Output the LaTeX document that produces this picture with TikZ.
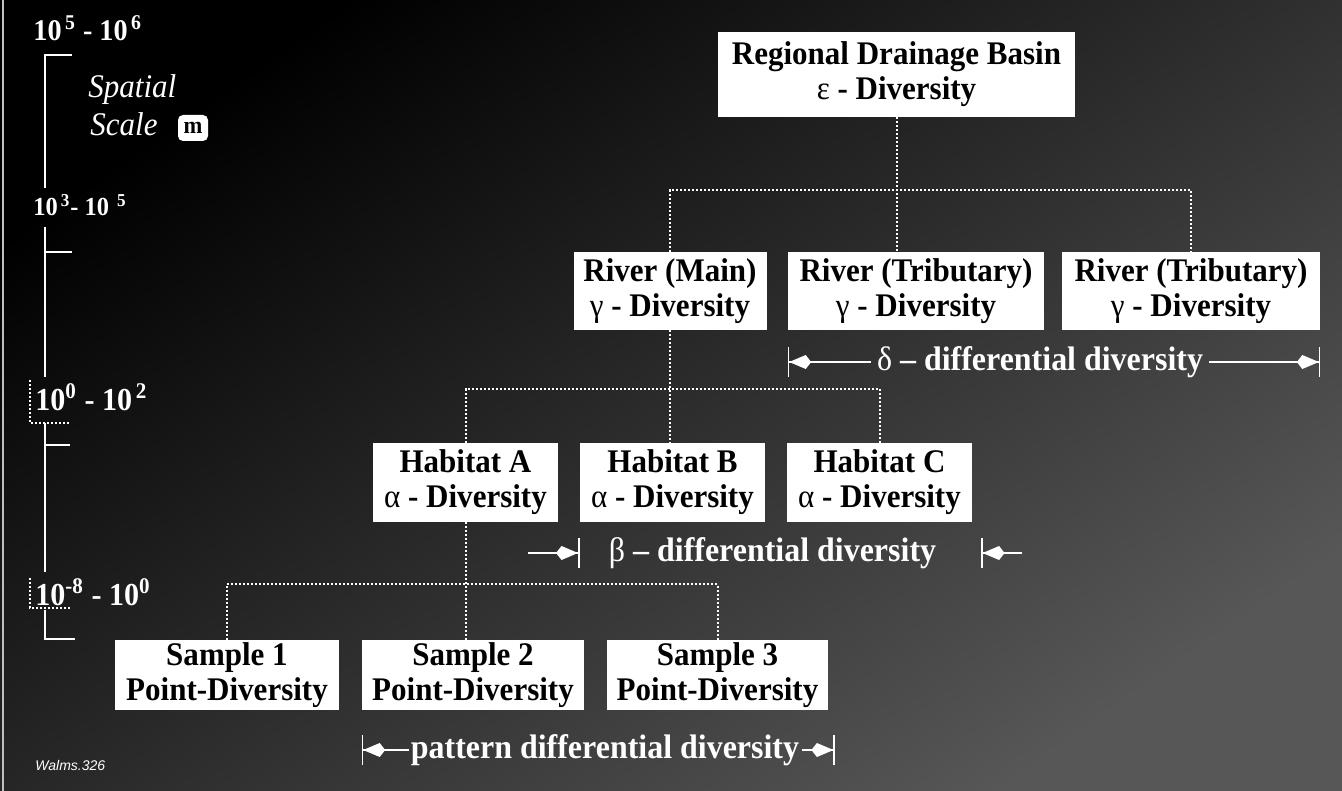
\documentclass[tikz,border=0pt]{standalone}
\usepackage{fontspec}
\setmainfont{Liberation Serif}[FakeStretch=0.94]
\newfontfamily\firma{Liberation Sans}
\usetikzlibrary{arrows.meta}

\begin{document}
\begin{tikzpicture}[
    x=0.5pt, y=-0.5pt,
    caja/.style={fill=white, text=black, align=center, inner sep=0pt,
                 font=\fontsize{16.5}{17.5}\selectfont\bfseries},
    enl/.style={draw=white, densely dotted, line width=1pt},
    eje/.style={draw=white, line width=1.2pt},
    cota/.style={draw=white, line width=0.8pt},
    cotaI/.style={cota, arrows={Bar[width=15pt]Kite[length=11pt,width=7pt]-}},
    cotaF/.style={cota, arrows={-Kite[length=11pt,width=7pt]Bar[width=15pt]}},
    etq/.style={text=white, inner sep=3pt, font=\fontsize{17}{18}\selectfont\bfseries},
    esc/.style={text=white, anchor=west, inner sep=0pt},
]

\def\gr#1{\textmd{#1}}   % letras griegas sin negrita

% ===================== Fondo =====================
\useasboundingbox (0,0) rectangle (1342,791);
\fill[black] (0,0) rectangle (1342,791);
\shade[top color=black, middle color=black!95!white, bottom color=black!66!white,
       shading angle=35] (0,0) rectangle (1342,791);
\draw[white!75!black, line width=1pt] (3,0) -- (3,791);

% ===================== Escala espacial =====================
\node[esc, font=\fontsize{15}{16}\selectfont\bfseries] (e56) at (33,28)
      {10\textsuperscript{\,5} - 10\textsuperscript{\,6}};
\node[esc, font=\fontsize{16.5}{18}\selectfont\itshape] (espa) at (88,90) {Spatial};
\node[esc, font=\fontsize{16.5}{18}\selectfont\itshape] (esca) at (90,124) {Scale};
\node[fill=white, rounded corners=2.5pt, minimum width=15pt, minimum height=13pt,
      inner sep=0pt, font=\fontsize{12}{12}\selectfont\bfseries] (um) at (193,128) {m};
\node[esc, font=\fontsize{13}{15}\selectfont\bfseries] (e35) at (33,205)
      {10\textsuperscript{\,3}- 10\textsuperscript{\;\,5}};
\node[esc, font=\fontsize{16}{18}\selectfont\bfseries] (e02) at (35,397)
      {10\textsuperscript{0} - 10\textsuperscript{\,2}};
\node[esc, font=\fontsize{16}{18}\selectfont\bfseries] (e80) at (35,592)
      {10\textsuperscript{-8} - 10\textsuperscript{0}};

\draw[eje] (72,55) -- (45,55) -- (45,188);
\draw[eje] (45,227) -- (45,377);
\draw[eje] (45,252) -- (72,252);
\draw[eje] (45,423) -- (45,572);
\draw[eje] (45,445) -- (70,445);
\draw[eje] (45,610) -- (45,639) -- (75,639);
\draw[enl] (30,380) -- (30,423) -- (70,423);
\draw[enl] (30,578) -- (30,608) -- (70,608);

% ===================== Cajas =====================
\node[caja, minimum width=178.5pt, minimum height=42.5pt] (cuenca) at (896.5,74.5)
      {Regional Drainage Basin\\\gr{ε} - Diversity};

\node[caja, minimum width=96.5pt, minimum height=39pt] (rmain) at (670,291)
      {River (Main)\\\gr{γ} - Diversity};
\node[caja, minimum width=128pt, minimum height=39pt] (rtrib1) at (916,291)
      {River (Tributary)\\\gr{γ} - Diversity};
\node[caja, minimum width=129pt, minimum height=39pt] (rtrib2) at (1191,291)
      {River (Tributary)\\\gr{γ} - Diversity};

\node[caja, minimum width=92.5pt, minimum height=39.5pt] (habA) at (465.5,482.5)
      {Habitat A\\\gr{α} - Diversity};
\node[caja, minimum width=92.5pt, minimum height=39.5pt] (habB) at (672.5,482.5)
      {Habitat B\\\gr{α} - Diversity};
\node[caja, minimum width=92.5pt, minimum height=39.5pt] (habC) at (879.5,482.5)
      {Habitat C\\\gr{α} - Diversity};

\node[caja, minimum width=112pt, minimum height=35pt] (s1) at (227,675)
      {Sample 1\\Point-Diversity};
\node[caja, minimum width=111pt, minimum height=35pt] (s2) at (473,675)
      {Sample 2\\Point-Diversity};
\node[caja, minimum width=110.5pt, minimum height=35pt] (s3) at (717.5,675)
      {Sample 3\\Point-Diversity};

% ===================== Conexiones =====================
\coordinate (busR) at (cuenca.south |- 0,190);
\draw[enl] (cuenca.south) -- (cuenca.south |- rtrib1.north);
\draw[enl] (rmain.north) |- (busR) -| (rtrib2.north);

\coordinate (busH) at (rmain.south |- 0,389);
\draw[enl] (rmain.south) -- (rmain.south |- habB.north);
\draw[enl] (habA.north) |- (busH) -| (habC.north);

\coordinate (busS) at (habA.south |- 0,584);
\draw[enl] (habA.south) -- (habA.south |- s2.north);
\draw[enl] (s1.north) |- (busS) -| (s3.north);

% ===================== Cotas de diversidad diferencial =====================
\node[etq] (dlab) at (1040,362) {\gr{δ} -- differential diversity};
\draw[cotaI] (rtrib1.west |- dlab) -- (dlab.west);
\draw[cotaF] (dlab.east) -- (rtrib2.east |- dlab);

\node[etq] (blab) at (772.5,553) {\gr{β} -- differential diversity};
\coordinate (bA) at (528,553);
\coordinate (bD) at (1022,553);
\draw[cotaF] (bA) -- (habB.west |- blab);
\draw[cotaF] (bD) -- (981,553);

\node[etq, inner sep=1pt] (plab) at (605,750) {pattern differential diversity};
\draw[cotaI] (s2.west |- plab) -- (plab.west);
\draw[cotaF] (plab.east) -- (835,750);

\node[esc, font=\firma\itshape\fontsize{7}{8}\selectfont] (firma) at (35,765) {Walms.326};

\end{tikzpicture}
\end{document}
